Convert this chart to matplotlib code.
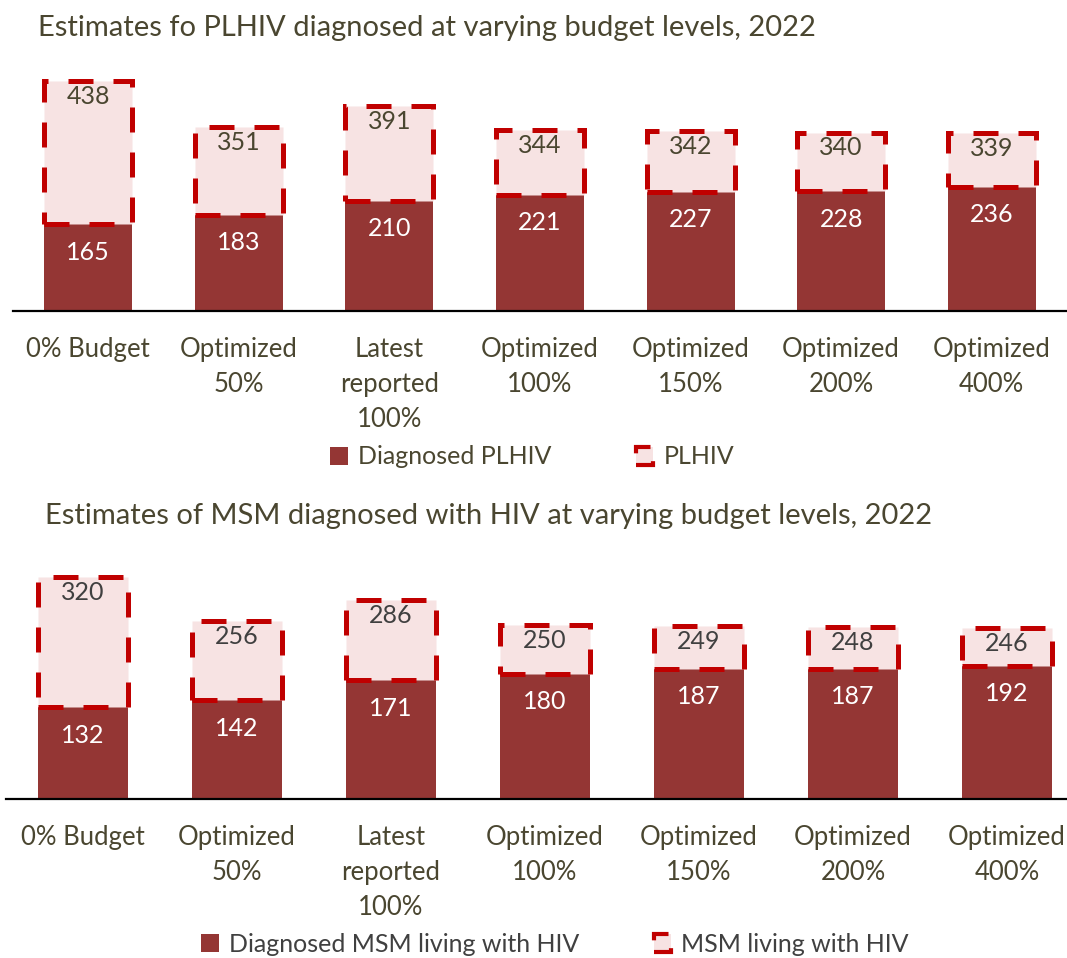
import matplotlib.pyplot as plt
from matplotlib.patches import Patch

plt.rcParams['font.family'] = ['Lato', 'DejaVu Sans']

categories = ['0% Budget', 'Optimized\n50%', 'Latest\nreported\n100%', 'Optimized\n100%',
              'Optimized\n150%', 'Optimized\n200%', 'Optimized\n400%']

plhiv_diag = [165, 183, 210, 221, 227, 228, 236]
plhiv_total = [438, 351, 391, 344, 342, 340, 339]

msm_diag = [132, 142, 171, 180, 187, 187, 192]
msm_total = [320, 256, 286, 250, 249, 248, 246]

DARK = '#943634'
PINK = '#F7E3E3'
RED = '#C00000'
OLIVE = '#4A4630'
GREY = '#404040'

fig = plt.figure(figsize=(10.67, 9.58), dpi=100)


def panel(rect, ylim_top, diag, total, title, title_xy, names, txtcol, legend_xy, colsp):
    ax = fig.add_axes(rect)
    x = range(len(categories))
    rest = [t - d for t, d in zip(total, diag)]
    ax.bar(x, diag, width=0.585, color=DARK, zorder=2)
    ax.bar(x, rest, bottom=diag, width=0.585, facecolor=PINK, edgecolor=RED,
           linewidth=3.6, linestyle=(0, (5, 4)), zorder=3)
    for i in x:
        ax.annotate(str(diag[i]), (i, diag[i]), xytext=(0, -20), textcoords='offset points',
                    ha='center', va='center', color='white', fontsize=18)
        ax.annotate(str(total[i]), (i, total[i]), xytext=(0, -11), textcoords='offset points',
                    ha='center', va='center', color=txtcol, fontsize=18, zorder=5)
    ax.set_xlim(-0.5, len(categories) - 0.5)
    ax.set_ylim(0, ylim_top)
    ax.set_xticks(list(x))
    ax.set_xticklabels(categories, fontsize=18.5, color=OLIVE, linespacing=1.5)
    ax.tick_params(axis='x', length=0, pad=19)
    ax.set_yticks([])
    for s in ['top', 'right', 'left']:
        ax.spines[s].set_visible(False)
    ax.spines['bottom'].set_linewidth(1.6)
    ax.spines['bottom'].set_zorder(4)
    fig.text(title_xy[0], title_xy[1], title, fontsize=21, color=OLIVE, va='center', ha='left')
    handles = [Patch(facecolor=DARK, edgecolor='none'),
               Patch(facecolor=PINK, edgecolor=RED, linewidth=3, linestyle=(0, (5, 4)))]
    fig.legend(handles, names, loc='center', bbox_to_anchor=legend_xy, ncol=2,
               frameon=False, fontsize=18, labelcolor=txtcol, handlelength=0.7,
               handleheight=0.7, handletextpad=0.4, columnspacing=colsp)
    return ax


# top panel
panel([13 / 1067, 1 - 311 / 958, 1054 / 1067, 262.5 / 958], 500,
      plhiv_diag, plhiv_total,
      'Estimates fo PLHIV diagnosed at varying budget levels, 2022',
      (38 / 1067, 1 - 28 / 958), ['Diagnosed PLHIV', 'PLHIV'], OLIVE,
      (532 / 1067, 1 - 457 / 958), 3.4)

# bottom panel
panel([6 / 1067, 1 - 799 / 958, 1078 / 1067, 243 / 958], 350,
      msm_diag, msm_total,
      'Estimates of MSM diagnosed with HIV at varying budget levels, 2022',
      (45 / 1067, 1 - 516 / 958), ['Diagnosed MSM living with HIV', 'MSM living with HIV'],
      GREY, (555 / 1067, 1 - 944 / 958), 3.0)

fig.savefig('out.png', dpi=100)
